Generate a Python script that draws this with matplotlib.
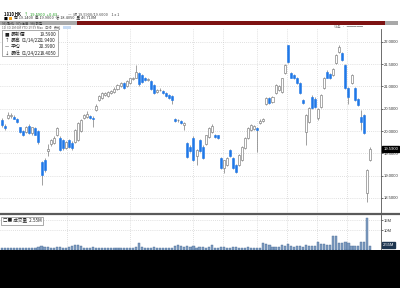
"""
Candlestick + volume chart, terminal style, 400x288 -> out.png
"""
import matplotlib
matplotlib.use("Agg")
import matplotlib.pyplot as plt
from matplotlib.patches import Rectangle
from matplotlib.transforms import blended_transform_factory
import numpy as np

plt.rcParams["font.family"] = ["Noto Sans CJK TC", "DejaVu Sans"]

OPEN = [20.25, 20.12, 20.30, 20.33, 20.32, 20.28, 20.08, 20.00, 19.98, 20.12,
        19.95, 20.06, 20.00, 19.30, 19.35, 19.55, 19.70, 19.72, 19.90, 19.85,
        19.80, 19.62, 19.80, 19.73, 19.75, 19.80, 20.00, 20.30, 20.32, 20.34,
        20.30, 20.48, 20.70, 20.74, 20.80, 20.78, 20.86, 20.88, 20.95, 21.00,
        21.08, 21.00, 21.08, 21.16, 21.20, 21.30, 21.25, 21.18, 21.15, 21.12,
        21.04, 20.88, 20.92, 20.90, 20.85, 20.80, 20.78, 20.28, 20.24, 20.22,
        20.13, 19.72, 19.65, 19.85, 19.45, 19.80, 19.65, 19.70, 19.87, 19.98,
        19.90, 19.90, 19.40, 19.18, 19.24, 19.57, 19.40, 19.24, 19.24, 19.35,
        19.62, 19.84, 20.02, 20.05, 20.07, 20.18, 20.22, 20.60, 20.74, 20.66,
        20.85, 20.92, 20.87, 21.30, 21.93, 21.30, 21.26, 21.20, 21.08, 20.70,
        19.98, 20.20, 20.76, 20.72, 20.30, 20.54, 20.96, 21.32, 21.28, 21.26,
        21.52, 21.77, 21.75, 21.48, 20.96, 21.08, 20.96, 20.72, 20.31, 20.36,
        18.62, 19.35]
HIGH = [20.30, 20.16, 20.42, 20.40, 20.35, 20.30, 20.10, 20.03, 20.12, 20.15,
        20.10, 20.09, 20.02, 19.32, 19.40, 19.70, 19.82, 19.88, 20.08, 19.88,
        19.82, 19.78, 19.82, 19.78, 20.05, 20.20, 20.28, 20.38, 20.45, 20.36,
        20.33, 20.60, 20.80, 20.88, 20.88, 20.90, 20.93, 20.98, 21.06, 21.10,
        21.10, 21.14, 21.20, 21.22, 21.48, 21.33, 21.28, 21.21, 21.19, 21.14,
        21.06, 20.94, 20.96, 20.92, 20.87, 20.82, 20.80, 20.30, 20.27, 20.24,
        20.20, 19.75, 19.68, 19.88, 19.60, 19.83, 19.68, 19.92, 20.08, 20.15,
        19.93, 19.92, 19.42, 19.36, 19.42, 19.60, 19.42, 19.26, 19.48, 19.66,
        19.86, 20.08, 20.15, 20.14, 20.10, 20.26, 20.30, 20.76, 20.76, 20.79,
        21.05, 21.03, 21.20, 21.50, 21.94, 21.33, 21.28, 21.22, 21.10, 20.72,
        20.38, 20.54, 20.80, 20.76, 20.52, 20.83, 21.21, 21.36, 21.30, 21.42,
        21.72, 21.92, 21.78, 21.50, 20.98, 21.28, 20.98, 20.74, 20.47, 20.38,
        19.15, 19.65]
LOW = [20.08, 20.02, 20.27, 20.30, 20.26, 20.18, 19.96, 19.88, 19.95, 19.93,
       19.92, 19.90, 19.70, 18.79, 19.08, 19.45, 19.66, 19.70, 19.88, 19.55,
       19.58, 19.60, 19.62, 19.58, 19.72, 19.78, 19.98, 20.28, 20.30, 20.28,
       20.10, 20.46, 20.68, 20.72, 20.78, 20.76, 20.84, 20.86, 20.93, 20.98,
       20.94, 20.98, 21.06, 21.14, 21.18, 21.02, 21.08, 21.13, 21.12, 20.93,
       20.83, 20.86, 20.89, 20.84, 20.76, 20.72, 20.60, 20.20, 20.20, 20.16,
       20.02, 19.40, 19.53, 19.32, 19.24, 19.52, 19.38, 19.68, 19.85, 19.96,
       19.84, 19.83, 19.15, 19.06, 19.22, 19.42, 19.15, 19.06, 19.22, 19.33,
       19.60, 19.82, 20.00, 20.03, 19.53, 20.16, 20.20, 20.58, 20.60, 20.64,
       20.83, 20.90, 20.85, 21.28, 21.52, 21.18, 21.16, 21.06, 20.83, 20.61,
       19.69, 20.18, 20.50, 20.52, 20.24, 20.52, 20.94, 21.18, 21.16, 21.24,
       21.50, 21.75, 21.58, 20.94, 20.60, 21.06, 20.68, 20.56, 20.02, 19.94,
       18.405, 19.33]
CLOSE = [20.13, 20.07, 20.36, 20.37, 20.28, 20.20, 19.98, 19.90, 20.08, 19.95,
         20.08, 19.92, 19.75, 19.02, 19.12, 19.60, 19.80, 19.85, 20.06, 19.57,
         19.62, 19.75, 19.64, 19.62, 20.02, 20.18, 20.25, 20.35, 20.38, 20.30,
         20.26, 20.56, 20.78, 20.85, 20.86, 20.88, 20.90, 20.95, 21.04, 21.08,
         20.96, 21.12, 21.18, 21.20, 21.32, 21.05, 21.10, 21.15, 21.17, 20.95,
         20.85, 20.92, 20.93, 20.86, 20.78, 20.74, 20.70, 20.22, 20.25, 20.18,
         20.18, 19.42, 19.55, 19.35, 19.58, 19.55, 19.40, 19.90, 20.06, 20.12,
         19.86, 19.85, 19.17, 19.35, 19.40, 19.44, 19.17, 19.08, 19.46, 19.64,
         19.84, 20.06, 20.13, 20.11, 20.03, 20.22, 20.27, 20.74, 20.62, 20.77,
         21.03, 21.00, 21.18, 21.48, 21.55, 21.20, 21.18, 21.08, 20.85, 20.63,
         20.36, 20.52, 20.52, 20.54, 20.50, 20.81, 21.19, 21.20, 21.18, 21.40,
         21.70, 21.88, 21.60, 20.96, 20.76, 21.26, 20.70, 20.58, 20.20, 19.96,
         19.13, 19.59]
VOLUME_M = [1.0, 0.9, 1.1, 0.8, 1.0, 0.9, 1.2, 1.0, 1.1, 0.9,
            1.0, 1.2, 1.4, 2.2, 1.6, 1.4, 1.2, 1.1, 1.7, 1.3,
            1.2, 1.0, 1.3, 2.0, 2.3, 2.5, 2.1, 1.2, 1.0, 1.1,
            1.3, 1.2, 1.0, 1.1, 0.9, 1.0, 1.2, 0.9, 1.0, 1.1,
            1.2, 1.0, 0.9, 1.0, 1.3, 3.7, 1.4, 1.1, 1.0, 1.2,
            1.3, 1.0, 0.9, 1.0, 1.1, 1.0, 1.2, 1.8, 2.5, 2.2,
            1.6, 2.0, 1.4, 1.8, 1.2, 1.5, 1.3, 1.2, 1.4, 2.5,
            1.1, 1.0, 1.6, 1.4, 1.2, 1.1, 1.3, 1.4, 1.2, 1.0,
            1.1, 1.3, 1.0, 0.9, 1.2, 1.0, 3.7, 3.0, 2.4, 1.6,
            1.5, 1.4, 2.6, 2.0, 2.8, 1.8, 1.7, 2.0, 1.9, 1.6,
            2.6, 2.0, 2.2, 1.8, 4.2, 2.8, 3.2, 2.6, 2.4, 6.8,
            7.0, 3.6, 3.7, 3.8, 3.5, 2.0, 1.8, 2.2, 3.8, 3.8,
            16.0, 2.2]

PRICE_TICKS = [18.5, 19.0, 19.5, 20.0, 20.5, 21.0, 21.5, 22.0]
VOL_TICKS = [10, 15]
VOL_TICK_LABELS = ["10M", "15M"]
LAST_PRICE = "19.5900"
LAST_VOL = "2.55M"
LEGEND_ROWS = [("■", "最新價", "", "19.5900"),
               ("↑", "最高", "01/14/22", "21.9400"),
               ("—", "平均", "", "20.3900"),
               ("↓", "最低", "01/24/22", "18.4050")]
VGRID = [21.4, 42.1, 62.8, 72.7, 84.0, 93.8, 103.6, 113.5]

BLUE = "#1f78e8"
EDGE = "#7a7a7a"
GRID = "#c4c4c4"
NUM_FONT = "Liberation Sans"

W, H = 400, 288


def fx(px):
    return px / W


def fy(py):
    return 1 - py / H


fig = plt.figure(figsize=(4, 2.88), dpi=100)
fig.patch.set_facecolor("white")

# --- price panel ---
ax = fig.add_axes([0, fy(213), fx(381), (213 - 29) / H])
n = len(CLOSE)
idx = np.arange(n)
for i in idx:
    o, h, l, c = OPEN[i], HIGH[i], LOW[i], CLOSE[i]
    ax.vlines(i, l, h, color=EDGE, lw=0.5, zorder=2)
    lo, hi = min(o, c), max(o, c)
    if c < o:
        ax.add_patch(Rectangle((i - 0.33, lo), 0.66, hi - lo, facecolor=BLUE,
                               edgecolor=BLUE, lw=0.4, zorder=3))
    else:
        ax.add_patch(Rectangle((i - 0.33, lo), 0.66, max(hi - lo, 0.01),
                               facecolor="white", edgecolor=EDGE, lw=0.45, zorder=3))
ax.set_xlim(-0.66, 124.7)
ax.set_ylim(18.16, 22.29)
ax.yaxis.tick_right()
ax.set_yticks(PRICE_TICKS)
ax.set_yticklabels([f"{t:.4f}" for t in PRICE_TICKS], fontsize=3.0, color="#333333",
                   family=NUM_FONT)
ax.tick_params(axis="y", length=1.2, width=0.5, pad=1.0, color="#333333")
ax.set_xticks(VGRID)
ax.tick_params(axis="x", length=0, labelbottom=False)
ax.grid(True, ls=(0, (1, 2)), color=GRID, lw=0.5)
ax.set_axisbelow(True)
for s in ["top", "left", "bottom"]:
    ax.spines[s].set_visible(False)
ax.spines["right"].set_color("#555555")
ax.spines["right"].set_linewidth(0.6)

trans = blended_transform_factory(ax.transAxes, ax.transData)
ax.text(1.006, CLOSE[-1], LAST_PRICE, transform=trans, fontsize=3.0, color="white",
        va="center", ha="left", clip_on=False, family=NUM_FONT,
        bbox=dict(boxstyle="square,pad=0.2", fc="black", ec="black"))

# legend box
fig.add_artist(Rectangle((fx(2), fy(56)), fx(56), 26 / H, transform=fig.transFigure,
                         facecolor="white", edgecolor="#888888", lw=0.5, zorder=5))
for k, (sym, name, date, val) in enumerate(LEGEND_ROWS):
    yy = fy(34.5 + k * 6.2)
    fig.text(fx(5), yy, sym, fontsize=3.3, va="center", color="#222222", zorder=6)
    fig.text(fx(11), yy, name, fontsize=3.5, va="center", color="#222222", zorder=6)
    if date:
        fig.text(fx(22), yy, date, fontsize=3.3, va="center", color="#222222", zorder=6)
    fig.text(fx(56), yy, val, fontsize=3.3, va="center", ha="right", color="#222222", zorder=6)

# --- volume panel ---
vx = fig.add_axes([0, fy(250), fx(381), (250 - 215) / H])
vx.bar(idx, VOLUME_M, width=0.7, color="#7f9cc0", edgecolor="#4c6d96", lw=0.3)
vx.set_xlim(-0.66, 124.7)
vx.set_ylim(0, 17.5)
vx.yaxis.tick_right()
vx.set_yticks(VOL_TICKS)
vx.set_yticklabels(VOL_TICK_LABELS, fontsize=3.0, color="#333333", family=NUM_FONT)
vx.tick_params(axis="y", length=1.2, width=0.5, pad=1.0, color="#333333")
vx.set_xticks(VGRID)
vx.tick_params(axis="x", length=0, labelbottom=False)
vx.grid(True, ls=(0, (1, 2)), color=GRID, lw=0.5)
vx.set_axisbelow(True)
for s in ["top", "left", "bottom"]:
    vx.spines[s].set_visible(False)
vx.spines["right"].set_color("#555555")
vx.spines["right"].set_linewidth(0.6)
vtrans = blended_transform_factory(vx.transAxes, vx.transData)
vx.text(1.006, 2.55, LAST_VOL, transform=vtrans, fontsize=3.0, color="white",
        va="center", ha="left", clip_on=False, family=NUM_FONT,
        bbox=dict(boxstyle="square,pad=0.2", fc="#1d3550", ec="#1d3550"))
fig.add_artist(Rectangle((fx(1), fy(225)), fx(42), 8 / H, transform=fig.transFigure,
                         facecolor="white", edgecolor="#888888", lw=0.5, zorder=5))
fig.text(fx(3), fy(221), "□■ 成交量  " + LAST_VOL, fontsize=3.3, va="center",
         color="#222222", zorder=6)

# separator between panels
fig.add_artist(plt.Line2D([0, 1], [fy(214), fy(214)], transform=fig.transFigure,
                          color="#5a5a5a", lw=1.6))

# --- header ---
fig.text(fx(4), fy(15), "1810 HK", fontsize=3.0, weight="bold", va="center")
fig.text(fx(24), fy(15), "↑", fontsize=3.0, color="#1a9a1a", va="center")
fig.text(fx(30), fy(15), "19.5900  +0.43", fontsize=3.0, color="#1a9a1a", va="center")
fig.text(fx(68), fy(15), "—  收 19.5900/19.6000    1 x 1", fontsize=2.8,
         color="#444444", va="center")
fig.add_artist(Rectangle((fx(9), fy(20)), fx(3), 3 / H, transform=fig.transFigure,
                         facecolor="#f0a020", edgecolor="none"))
fig.text(fx(4), fy(18.5), "■", fontsize=2.8, va="center")
fig.text(fx(14), fy(18.5), "開 19.1400  高 19.9000  低 18.4050  量 46.710M", fontsize=2.8,
         color="#333333", va="center")
fig.add_artist(Rectangle((0, fy(24.5)), fx(77), 3.5 / H, transform=fig.transFigure,
                         facecolor="#a8a8a8", edgecolor="none"))
fig.add_artist(Rectangle((fx(77), fy(24.5)), fx(308), 3.5 / H, transform=fig.transFigure,
                         facecolor="#7d1212", edgecolor="none"))
fig.add_artist(Rectangle((fx(385), fy(24.5)), fx(13), 3.5 / H, transform=fig.transFigure,
                         facecolor="#a8a8a8", edgecolor="none"))
fig.text(fx(2), fy(22.8), "96) 動作   97) 編輯   98) 設定", fontsize=2.3,
         color="#333333", va="center")
fig.add_artist(Rectangle((fx(63), fy(28.5)), fx(8), 3 / H, transform=fig.transFigure,
                         facecolor="#c8dcf4", edgecolor="none"))
fig.text(fx(2), fy(27), "1D 3D 1M 6M YTD 1Y 5Y Max   日線   表格", fontsize=2.3,
         color="#555555", va="center")
fig.text(fx(334), fy(27), "线条  ·  ─────", fontsize=2.3, color="#777777", va="center")

# bottom black strip
fig.add_artist(Rectangle((0, 0), 1, fy(250), transform=fig.transFigure,
                         facecolor="black", edgecolor="none", zorder=20))

fig.savefig("out.png", dpi=100)
